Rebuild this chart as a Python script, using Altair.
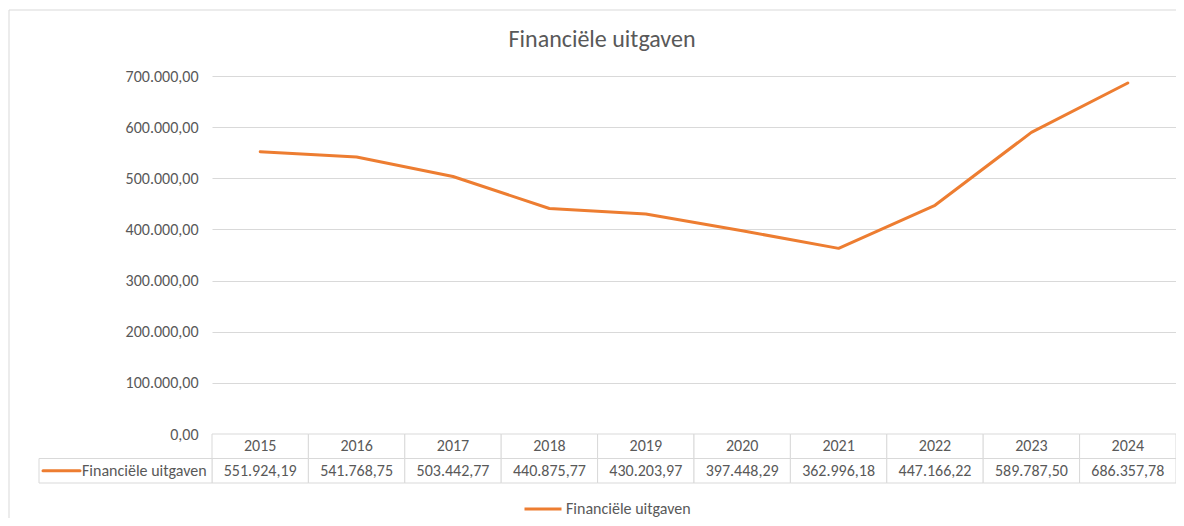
import altair as alt
import pandas as pd

years = ["2015", "2016", "2017", "2018", "2019", "2020", "2021", "2022", "2023", "2024"]
values = [551924.19, 541768.75, 503442.77, 440875.77, 430203.97,
          397448.29, 362996.18, 447166.22, 589787.50, 686357.78]
series_name = "Financiële uitgaven"
y_ticks = [0, 100000, 200000, 300000, 400000, 500000, 600000, 700000]
rows = ["header", "value"]

FONT = "Carlito, Calibri, Lato, sans-serif"
TXT = "#595959"
GRID = "#d9d9d9"
ORANGE = "#ED7D31"
FS = 16


def nl(v):
    s = f"{v:,.2f}"
    return s.replace(",", "X").replace(".", ",").replace("X", ".")


line_df = pd.DataFrame({"year": years, "value": values, "series": [series_name] * len(years)})
table_df = pd.DataFrame({
    "year": years + years,
    "row": ["header"] * len(years) + ["value"] * len(years),
    "text": years + [nl(v) for v in values],
})
label_df = pd.DataFrame({"row": ["value"], "label": [series_name]})

xscale = alt.Scale(type="band", domain=years, paddingInner=0, paddingOuter=0)
xenc = alt.X("year:N", scale=xscale, axis=None)
row_scale = alt.Scale(type="band", domain=rows, range=[358, 407], paddingInner=0, paddingOuter=0)
yrow = alt.Y("row:N", scale=row_scale, axis=None)

border = alt.Chart(pd.DataFrame({"a": [0]})).mark_rect(
    fill="transparent", stroke=GRID, strokeWidth=1
).encode(x=alt.value(-203), x2=alt.value(1100), y=alt.value(-66), y2=alt.value(700))

line = alt.Chart(line_df).mark_line(strokeWidth=3, strokeCap="round", strokeJoin="round").encode(
    x=xenc,
    y=alt.Y("value:Q", scale=alt.Scale(domain=[0, 700000], nice=False),
            axis=alt.Axis(values=y_ticks, format=",.2f", title=None, domain=False, ticks=False,
                          grid=True, gridColor=GRID, gridWidth=1, labelColor=TXT, labelFont=FONT,
                          labelFontSize=FS, labelPadding=14)),
    color=alt.Color("series:N", scale=alt.Scale(range=[ORANGE]),
                    legend=alt.Legend(title=None, orient="none", legendX=311, legendY=413,
                                      symbolType="stroke", symbolSize=1369, symbolStrokeWidth=3,
                                      labelFont=FONT, labelFontSize=FS, labelColor=TXT,
                                      labelOffset=3)),
)

cells = alt.Chart(table_df).mark_rect(fill="white", stroke=GRID, strokeWidth=1).encode(x=xenc, y=yrow)
cell_text = alt.Chart(table_df).mark_text(font=FONT, fontSize=FS, color=TXT).encode(
    x=xenc, y=yrow, text="text:N")

label_rect = alt.Chart(label_df).mark_rect(fill="white", stroke=GRID, strokeWidth=1).encode(
    x=alt.value(-173), x2=alt.value(0), y=yrow)
label_icon = alt.Chart(label_df).mark_rule(color=ORANGE, strokeWidth=3, strokeCap="round").encode(
    x=alt.value(-169), x2=alt.value(-132), y=yrow)
label_text = alt.Chart(label_df).mark_text(align="left", font=FONT, fontSize=FS, color=TXT).encode(
    x=alt.value(-130), y=yrow, text="label:N")

chart = alt.layer(border, line, cells, cell_text, label_rect, label_icon, label_text).resolve_scale(
    y="independent"
).properties(
    width=964, height=358,
    padding={"left": 204, "top": 68, "right": 0, "bottom": 84},
    autosize=alt.AutoSizeParams(type="none"),
    title=alt.Title(series_name, frame="group", anchor="middle", dx=-92, dy=42, offset=0,
                    fontSize=24, font=FONT, fontWeight="normal", color=TXT),
).configure(
    locale={"number": {"decimal": ",", "thousands": ".", "grouping": [3], "currency": ["€", ""]}}
).configure_view(stroke=None)

chart.save("out.html", embed_options={"renderer": "svg", "actions": False})
